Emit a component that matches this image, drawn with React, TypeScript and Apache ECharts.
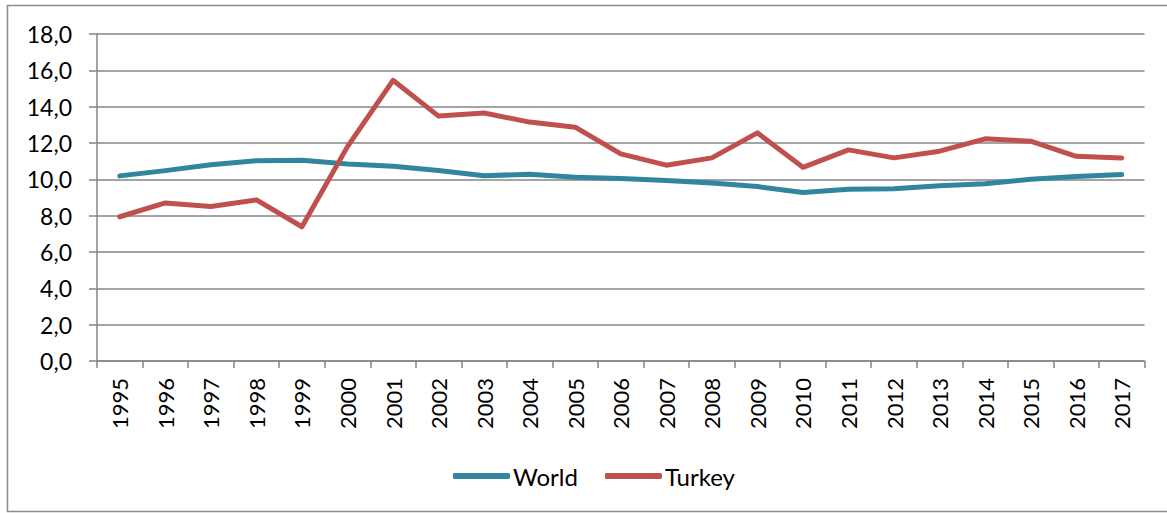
import React, { useEffect, useRef } from "react";
import * as echarts from "echarts";

const years = [
  "1995", "1996", "1997", "1998", "1999", "2000", "2001", "2002", "2003", "2004", "2005", "2006",
  "2007", "2008", "2009", "2010", "2011", "2012", "2013", "2014", "2015", "2016", "2017",
];
const world = [
  10.19, 10.48, 10.8, 11.02, 11.05, 10.85, 10.72, 10.48, 10.2, 10.28, 10.12, 10.04,
  9.93, 9.8, 9.6, 9.27, 9.45, 9.48, 9.65, 9.76, 10.0, 10.15, 10.26,
];
const turkey = [
  7.94, 8.7, 8.5, 8.87, 7.39, 11.8, 15.45, 13.48, 13.65, 13.15, 12.87, 11.4,
  10.78, 11.18, 12.56, 10.66, 11.62, 11.18, 11.55, 12.23, 12.1, 11.27, 11.18,
];

const FONT = "Lato";
const GRID = "#868686";

export default function App() {
  const ref = useRef<HTMLDivElement>(null);
  useEffect(() => {
    if (!ref.current) return;
    const chart = echarts.init(ref.current, null, { renderer: "svg" });
    chart.setOption({
      animation: false,
      backgroundColor: "#ffffff",
      textStyle: { fontFamily: FONT, color: "#000" },
      grid: { left: 97, right: 22.5, top: 34, bottom: 152, containLabel: false },
      graphic: [
        {
          type: "rect",
          shape: { x: 7.5, y: 5.5, width: 1180, height: 506 },
          style: { fill: "none", stroke: "#8c8c8c", lineWidth: 1.5 },
          silent: true,
          z: -1,
        },
      ],
      legend: {
        left: 448,
        top: 459,
        itemWidth: 57,
        itemHeight: 6,
        itemGap: 27,
        icon: "roundRect",
        textStyle: { fontFamily: FONT, fontSize: 24, color: "#000", padding: [0, 0, 0, -2] },
        data: ["World", "Turkey"],
      },
      xAxis: {
        type: "category",
        data: years,
        boundaryGap: true,
        axisLine: { show: true, lineStyle: { color: GRID, width: 1.5 } },
        axisTick: { show: true, length: 7, lineStyle: { color: GRID, width: 1.5 } },
        axisLabel: {
          rotate: 90,
          margin: 17,
          fontFamily: FONT,
          fontSize: 22,
          color: "#000",
          interval: 0,
        },
      },
      yAxis: {
        type: "value",
        min: 0,
        max: 18,
        interval: 2,
        axisLine: { show: true, lineStyle: { color: GRID, width: 1.5 } },
        axisTick: { show: true, length: 8, lineStyle: { color: GRID, width: 1.5 } },
        splitLine: { show: true, lineStyle: { color: GRID, width: 1.5 } },
        axisLabel: {
          margin: 25,
          fontFamily: FONT,
          fontSize: 23,
          color: "#000",
          formatter: (v: number) => v.toFixed(1).replace(".", ","),
        },
      },
      series: [
        {
          name: "World",
          type: "line",
          data: world,
          showSymbol: false,
          symbol: "none",
          color: "#31859C",
          lineStyle: { width: 5, color: "#31859C", cap: "round", join: "round" },
        },
        {
          name: "Turkey",
          type: "line",
          data: turkey,
          showSymbol: false,
          symbol: "none",
          color: "#C0504D",
          lineStyle: { width: 5, color: "#C0504D", cap: "round", join: "round" },
        },
      ],
    });
    return () => chart.dispose();
  }, []);
  return (
    <div
      ref={ref}
      style={{ position: "fixed", left: 0, top: 0, width: 1167, height: 513 }}
    />
  );
}
